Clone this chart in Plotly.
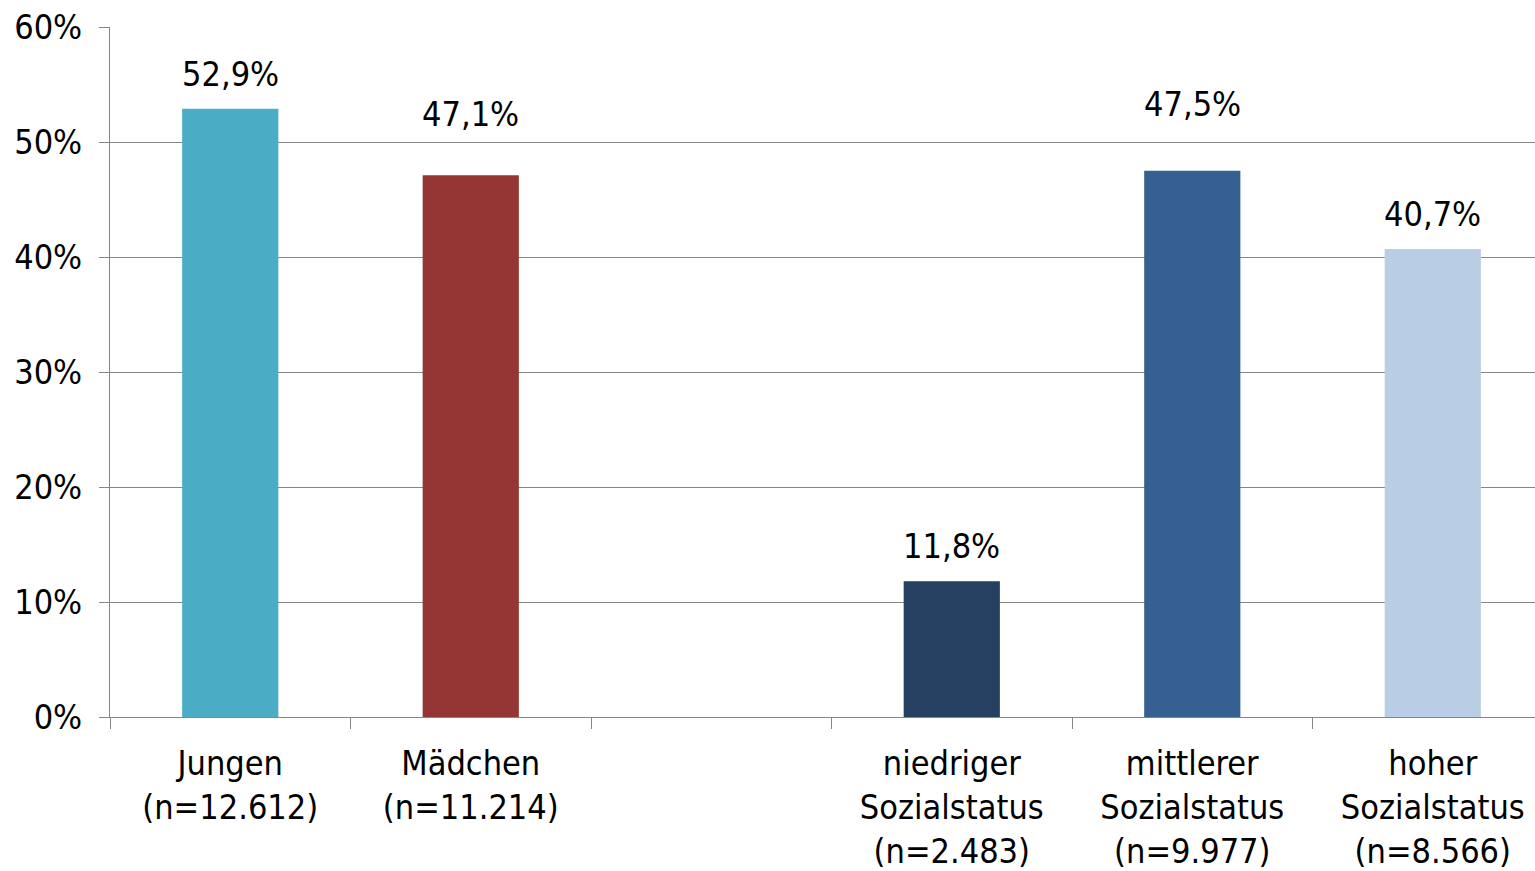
import plotly.graph_objects as go

categories = ["Jungen<br>(n=12.612)", "Mädchen<br>(n=11.214)", " ",
              "niedriger<br>Sozialstatus<br>(n=2.483)",
              "mittlerer<br>Sozialstatus<br>(n=9.977)",
              "hoher<br>Sozialstatus<br>(n=8.566)"]
values = [52.9, 47.1, None, 11.8, 47.5, 40.7]
colors = ["#4BACC6", "#943634", "#FFFFFF", "#254061", "#376092", "#B9CDE5"]
y_ticks = [0, 10, 20, 30, 40, 50, 60]
y_tick_text = [f"{v}%" for v in y_ticks]
# label offsets above bar tops (pixels), as positioned in the original
label_offsets = [13, 39, 0, 13, 45, 13]

FONT = "DejaVu Sans Condensed, Liberation Sans Narrow, sans-serif"
FS = 34

fig = go.Figure(go.Bar(
    x=categories, y=values,
    marker=dict(color=colors, line=dict(width=0)),
    width=0.4,
    hovertemplate="%{y:.1f}%<extra></extra>",
))

for cat, val, off in zip(categories, values, label_offsets):
    if val is None:
        continue
    fig.add_annotation(
        x=cat, y=val, text=f"{val:.1f}%".replace(".", ","),
        showarrow=False, yanchor="bottom", yshift=off,
        font=dict(family=FONT, size=FS, color="#000000"),
    )

fig.update_layout(
    width=1535, height=871,
    margin=dict(l=110, r=0, t=27, b=149),
    paper_bgcolor="white", plot_bgcolor="white",
    separators=",.",
    showlegend=False,
    font=dict(family=FONT, size=FS, color="#000000"),
)
fig.update_xaxes(
    type="category",
    range=[-0.5, 5.425],
    tickson="boundaries", ticks="outside", ticklen=11, tickcolor="#868686", tickwidth=1,
    showline=True, linecolor="#868686", linewidth=1,
    showgrid=False,
    ticklabelstandoff=16,
    tickfont=dict(family=FONT, size=FS, color="#000000"),
)
fig.update_yaxes(
    range=[0, 60], tickmode="array", tickvals=y_ticks, ticktext=y_tick_text,
    ticks="outside", ticklen=10, tickcolor="#868686",
    showline=True, linecolor="#868686", linewidth=1,
    showgrid=True, gridcolor="#868686", gridwidth=1,
    zeroline=False,
    ticklabelstandoff=10,
    tickfont=dict(family=FONT, size=FS, color="#000000"),
)

fig.write_html("out.html")
